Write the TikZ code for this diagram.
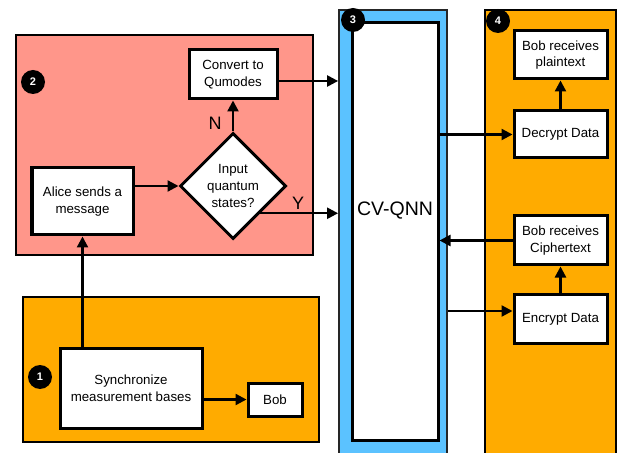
\documentclass[tikz,border=0pt]{standalone}
\usepackage{fontspec}
\setmainfont{Liberation Sans}
\usetikzlibrary{shapes.geometric,arrows.meta}

\definecolor{salmon}{HTML}{FF968A}
\definecolor{amber}{HTML}{FFAB00}
\definecolor{skyblue}{HTML}{5BC2FF}

\tikzset{
  panel/.style={draw=black, line width=2.6bp, inner sep=0pt},
  box/.style={draw=black, fill=white, line width=3bp, inner sep=0pt,
    align=center, font=\fontsize{13.3bp}{16.6bp}\selectfont},
  decision/.style={diamond, draw=black, fill=white, line width=3bp,
    inner sep=0pt, aspect=1, align=center,
    font=\fontsize{13.3bp}{16.8bp}\selectfont},
  badge/.style={circle, fill=black, minimum size=24bp, inner sep=0pt,
    text=white, font=\fontsize{11bp}{12bp}\selectfont\bfseries},
  flow/.style={line width=2.3bp, -{Triangle[length=11bp,width=11bp]}},
  tag/.style={inner sep=0pt, font=\fontsize{18bp}{20bp}\selectfont},
}

\begin{document}
\begin{tikzpicture}[x=1bp, y=-1bp]
\useasboundingbox[fill=white] (0,0) rectangle (619,453);

% stage panels
\node[panel, fill=salmon, minimum width=297bp, minimum height=220bp] (p2) at (164.5,145) {};
\node[panel, fill=amber, minimum width=296bp, minimum height=145bp] (p1) at (171,369.5) {};
\node[draw=black!85, line width=1.8bp, fill=skyblue, inner sep=0pt,
      minimum width=108bp, minimum height=460bp] (p3) at (393,240) {};
\node[panel, fill=amber, minimum width=131bp, minimum height=460bp] (p4) at (550.5,240) {};

% stage 1 and 2
\node[box, minimum width=142bp, minimum height=80bp] (sync) at (131,388) {Synchronize\\measurement bases};
\node[box, minimum width=54bp, minimum height=33bp] (bob) at (275,399.5) {Bob};
\node[box, minimum width=101bp, minimum height=67bp] (alice) at (82.5,201.5) {Alice sends a\\message};
\node[decision, minimum width=106bp, minimum height=106bp] (dia) at (233,186) {Input\\quantum\\states?};
\node[box, minimum width=88bp, minimum height=49bp] (conv) at (233,74.5) {Convert to\\Qumodes};

% stage 3
\node[box, minimum width=86bp, minimum height=417bp] (qnn) at (395,231.5) {};
\node[inner sep=0pt, font=\fontsize{19.5bp}{22bp}\selectfont] (qnnlabel) at (395,211) {CV-QNN};

% stage 4
\node[box, minimum width=93bp, minimum height=48bp] (plain) at (560.5,55) {Bob receives\\plaintext};
\node[box, minimum width=93bp, minimum height=47bp] (decrypt) at (560.5,134.5) {Decrypt Data};
\node[box, minimum width=93bp, minimum height=49bp] (cipher) at (560.5,240.5) {Bob receives\\Ciphertext};
\node[box, minimum width=93bp, minimum height=48bp] (encrypt) at (560.5,319) {Encrypt Data};

% stage numbers, on top of everything
\node[badge] (n1) at (40,377) {1};
\node[badge] (n2) at (33,82) {2};
\node[badge] (n3) at (353,20) {3};
\node[badge] (n4) at (498,21) {4};

% branch labels
\node[tag] (tagN) at (215,123) {N};
\node[tag] (tagY) at (298,203) {Y};

% connectors
\draw[flow] (sync.north -| alice.south) -- (alice.south);
\draw[flow] (sync.east |- bob.west) -- (bob.west);
\draw[flow] (alice.east |- dia.west) -- (dia.west);
\draw[flow] (dia.north) -- (conv.south);
\coordinate (convout) at ([yshift=-6.5bp]conv.east);
\draw[flow] (convout) -- (convout -| p3.west);
\coordinate (yes) at (dia.south east);
\draw[flow] (yes) -- (yes -| p3.west);
\draw[flow] (qnn.east |- decrypt.west) -- (decrypt.west);
\draw[flow] (cipher.west) -- (cipher.west -| qnn.east);
\coordinate (encin) at ([yshift=8bp]encrypt.west);
\draw[flow] (encin -| p3.east) -- (encin);
\draw[flow] (encrypt.north) -- (cipher.south);
\draw[flow] (decrypt.north) -- (plain.south);

\end{tikzpicture}
\end{document}
